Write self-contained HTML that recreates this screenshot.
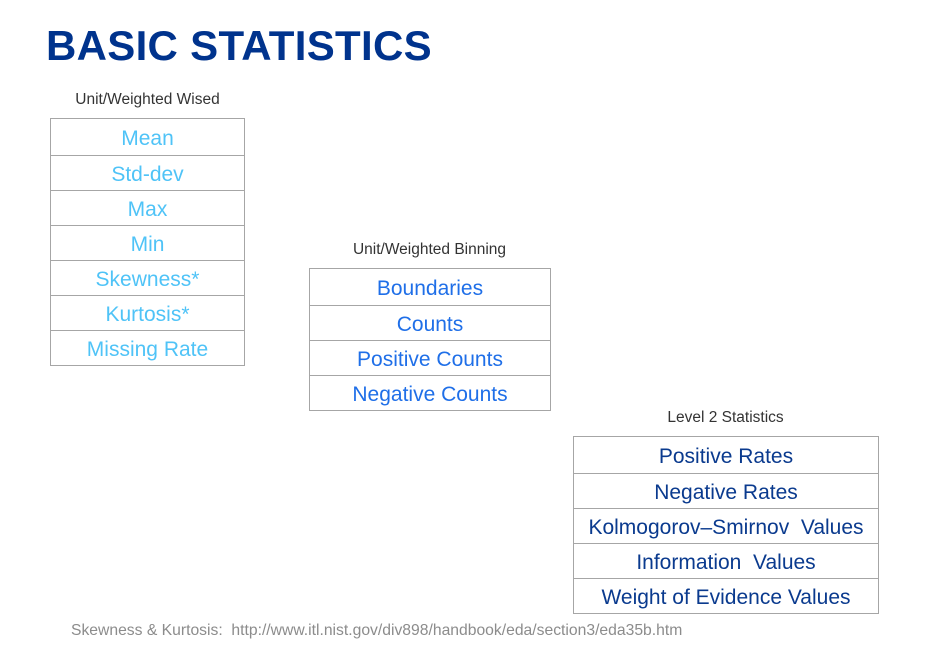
<!DOCTYPE html>
<html><head><meta charset="utf-8"><style>
body{margin:0;width:930px;height:655px;background:#fff;font-family:"Liberation Sans",sans-serif;position:relative;overflow:hidden}
h1{position:absolute;left:46px;top:22px;margin:0;font-size:42px;font-weight:bold;color:#00338d;letter-spacing:0.3px;line-height:48px}
.cap{position:absolute;font-size:15.5px;color:#333;text-align:center}
table{position:absolute;border-collapse:collapse}
td{border:1px solid #a6a6a6;text-align:center;font-size:21px;padding:4px 0 0 0;height:30px;line-height:30px;white-space:nowrap;box-sizing:content-box}
td.f{height:32px}
.t1 td{color:#4fc3f7}
.t2 td{color:#1f6fe8}
.t3 td{color:#0a3a8e}
.foot{position:absolute;left:71px;top:622px;font-size:15.7px;color:#8c8c8c;white-space:nowrap}
</style></head><body>
<h1>BASIC STATISTICS</h1>
<div class="cap" style="left:40px;width:215px;top:91px">Unit/Weighted Wised</div>
<table class="t1" style="left:50px;top:118px;width:195px">
<tr><td class="f">Mean</td></tr>
<tr><td>Std-dev</td></tr>
<tr><td>Max</td></tr>
<tr><td>Min</td></tr>
<tr><td>Skewness*</td></tr>
<tr><td>Kurtosis*</td></tr>
<tr><td>Missing Rate</td></tr>
</table>
<div class="cap" style="left:309px;width:241px;top:241px">Unit/Weighted Binning</div>
<table class="t2" style="left:309px;top:268px;width:242px">
<tr><td class="f">Boundaries</td></tr>
<tr><td>Counts</td></tr>
<tr><td>Positive Counts</td></tr>
<tr><td>Negative Counts</td></tr>
</table>
<div class="cap" style="left:573px;width:305px;top:409px">Level 2 Statistics</div>
<table class="t3" style="left:573px;top:436px;width:306px">
<tr><td class="f">Positive Rates</td></tr>
<tr><td>Negative Rates</td></tr>
<tr><td>Kolmogorov–Smirnov&nbsp; Values</td></tr>
<tr><td>Information&nbsp; Values</td></tr>
<tr><td>Weight of Evidence Values</td></tr>
</table>
<div class="foot">Skewness &amp; Kurtosis:&nbsp; http://www.itl.nist.gov/div898/handbook/eda/section3/eda35b.htm</div>
</body></html>
